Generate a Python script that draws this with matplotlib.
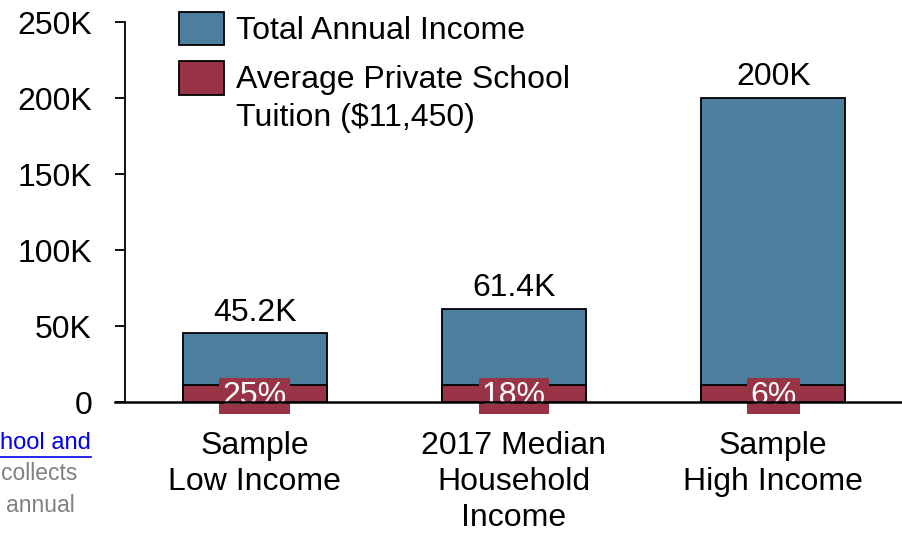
import matplotlib.pyplot as plt
from matplotlib.patches import Rectangle
from matplotlib.lines import Line2D

plt.rcParams['font.family'] = ['Liberation Sans', 'DejaVu Sans']

# income scenarios vs. average private school tuition
categories = ['Sample\nLow Income', '2017 Median\nHousehold\nIncome', 'Sample\nHigh Income']
income = [45200, 61400, 200000]
income_labels = ['45.2K', '61.4K', '200K']
tuition = 11450
tuition_share = ['25%', '18%', '6%']
yticks = [0, 50000, 100000, 150000, 200000, 250000]
ytick_labels = ['0', '50K', '100K', '150K', '200K', '250K']

BLUE = '#4C7E9D'
RED = '#983445'
FS = 23

W, H = 903, 534
fig = plt.figure(figsize=(W / 100, H / 100), dpi=100)
ax = fig.add_axes([125 / W, 1 - 402 / H, 1 - 125 / W, (402 - 22) / H])

x = list(range(len(categories)))
ax.bar(x, income, width=0.556, color=BLUE, edgecolor='black', linewidth=1.3, zorder=2)
ax.bar(x, [tuition] * len(x), width=0.556, color=RED, edgecolor='black', linewidth=1.3, zorder=3)

for xi, val, lab, share in zip(x, income, income_labels, tuition_share):
    ax.annotate(lab, (xi, val), xytext=(0, 4), textcoords='offset points',
                ha='center', va='bottom', fontsize=FS)
    ax.text(xi, 4000, share, ha='center', va='center', fontsize=FS, color='white', zorder=4,
            bbox=dict(boxstyle='square,pad=0.1', facecolor=RED, edgecolor='none'))

ax.set_xlim(-0.5, 2.5)
ax.set_ylim(0, 250000)
ax.set_yticks(yticks)
ax.set_yticklabels(ytick_labels, fontsize=FS)
ax.set_xticks(x)
ax.set_xticklabels(categories, fontsize=FS, linespacing=1.25)
ax.tick_params(axis='x', length=0, pad=21)
ax.tick_params(axis='y', direction='out', length=7.2, width=1.3, pad=16.5)
for side in ['top', 'right']:
    ax.spines[side].set_visible(False)
ax.spines['left'].set_linewidth(1.3)
ax.spines['bottom'].set_linewidth(1.8)
ax.spines['bottom'].set_zorder(5)
ax.spines['bottom'].set_bounds(-0.54, 2.5)
ax.spines['bottom'].set_clip_on(False)

# legend drawn in figure pixels
def fx(px):
    return px / W

def fy(py):
    return 1 - py / H

for top, bottom, col in [(12, 45, BLUE), (61, 95, RED)]:
    fig.patches.append(Rectangle((fx(179), fy(bottom)), fx(224) - fx(179), fy(top) - fy(bottom),
                                 transform=fig.transFigure, facecolor=col, edgecolor='black', linewidth=1.3))
fig.text(fx(236), fy(31), 'Total Annual Income', fontsize=FS, va='center')
fig.text(fx(236), fy(80), 'Average Private School', fontsize=FS, va='center')
fig.text(fx(236), fy(118), 'Tuition ($11,450)', fontsize=FS, va='center')

# page text at the left edge
fig.text(fx(91), fy(443), 'hool and', fontsize=17, color='#0000EE', ha='right', va='center')
fig.lines.append(Line2D([0, fx(91)], [fy(457), fy(457)], transform=fig.transFigure, color='#0000EE', linewidth=1.2))
fig.text(fx(77), fy(474), 'collects', fontsize=16.5, color='#808080', ha='right', va='center')
fig.text(fx(75), fy(506), 'annual', fontsize=16.5, color='#808080', ha='right', va='center')

fig.savefig('out.png', dpi=100)
